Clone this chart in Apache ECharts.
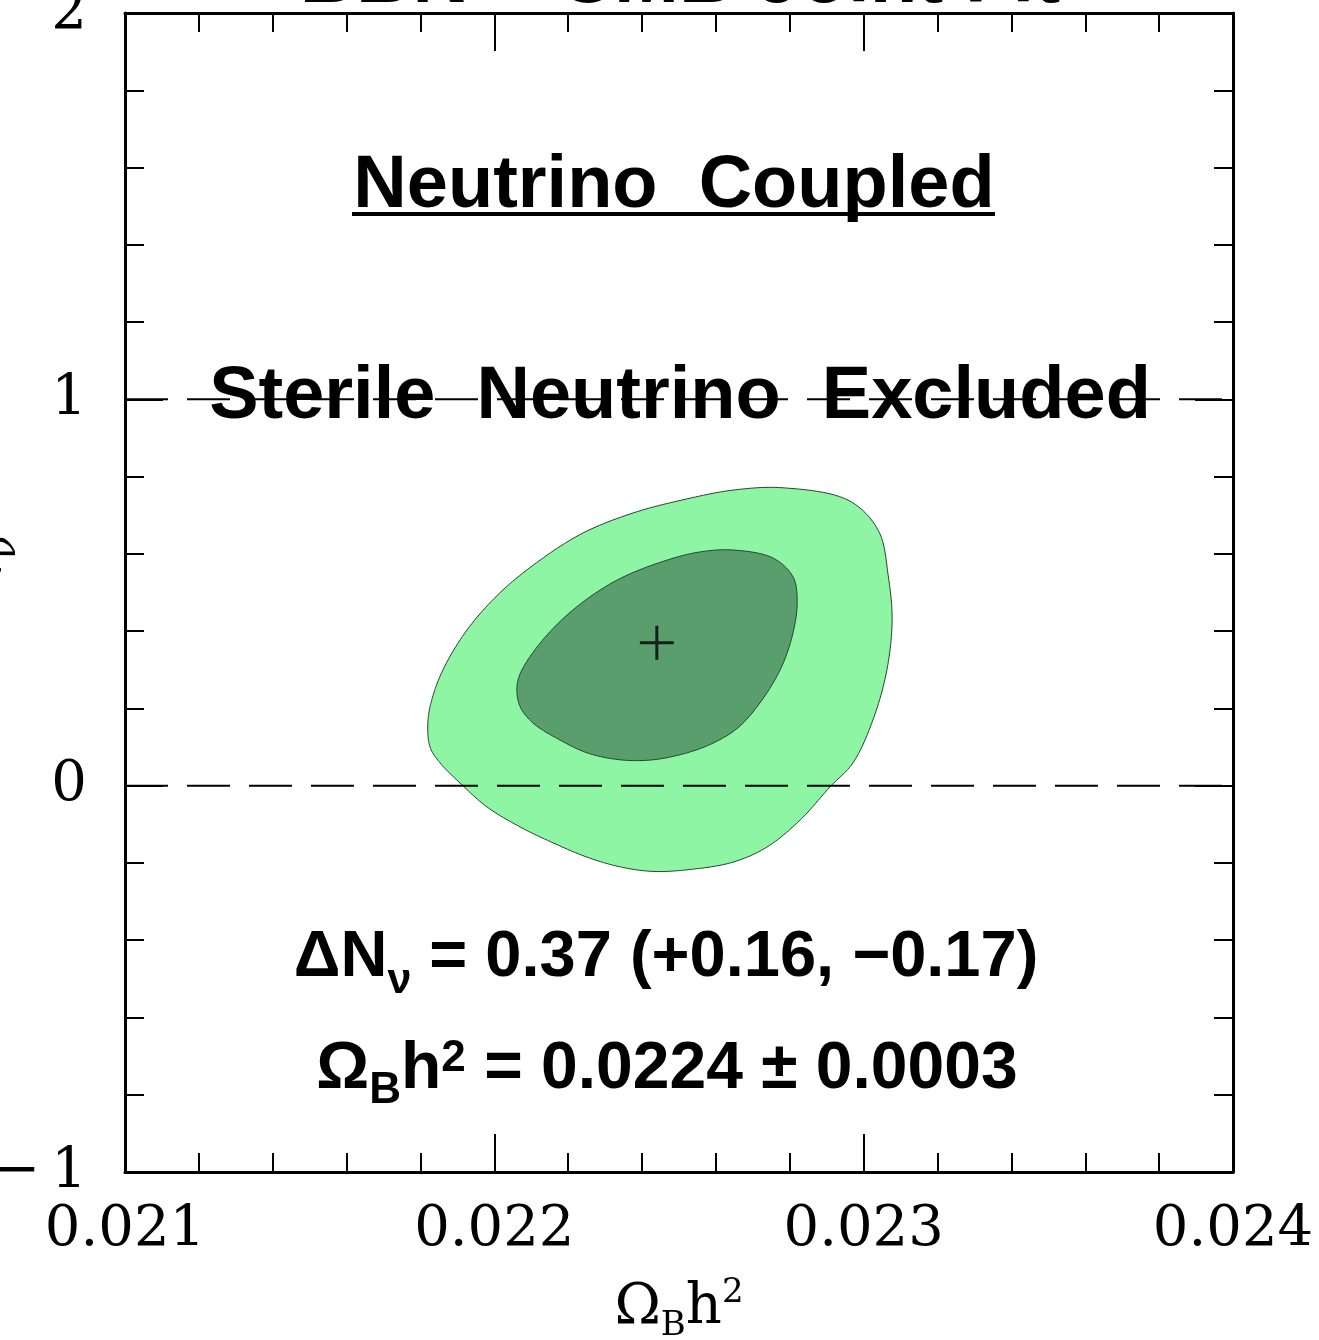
<!DOCTYPE html>
<html>
<head>
<meta charset="utf-8">
<script src="https://cdn.jsdelivr.net/npm/echarts/dist/echarts.min.js"></script>
<style>
html,body{margin:0;padding:0;background:#ffffff;}
#chart{width:1319px;height:1340px;}
</style>
</head>
<body>
<div id="chart"></div>
<script>
// ---- data ----
const xTicks = [0.021, 0.022, 0.023, 0.024];
const yTicks = [-1, 0, 1, 2];
// 95% (outer) contour: [Omega_B h^2, Delta N_nu]
const outerContour = [
  [0.022782, 0.771], [0.022960, 0.738], [0.023040, 0.660], [0.023067, 0.540],
  [0.023077, 0.429], [0.023063, 0.300], [0.023025, 0.170], [0.022971, 0.059],
  [0.022909, -0.003], [0.022828, -0.089], [0.022738, -0.159], [0.022646, -0.198],
  [0.022530, -0.217], [0.022430, -0.222], [0.022340, -0.210], [0.022251, -0.185],
  [0.022159, -0.148], [0.022070, -0.107], [0.021980, -0.055], [0.021907, 0.007],
  [0.021853, 0.059], [0.021826, 0.100], [0.021820, 0.162], [0.021830, 0.220],
  [0.021861, 0.300], [0.021926, 0.403], [0.022015, 0.499], [0.022124, 0.584],
  [0.022240, 0.654], [0.022376, 0.706], [0.022511, 0.740], [0.022646, 0.765]
];
// 68% (inner) contour
const innerContour = [
  [0.022646, 0.610], [0.022755, 0.589], [0.022809, 0.540], [0.022820, 0.473],
  [0.022806, 0.385], [0.022774, 0.300], [0.022719, 0.214], [0.022660, 0.150],
  [0.022592, 0.110], [0.022522, 0.085], [0.022430, 0.067], [0.022340, 0.067],
  [0.022251, 0.085], [0.022178, 0.118], [0.022105, 0.162], [0.022070, 0.204],
  [0.022061, 0.250], [0.022070, 0.290], [0.022124, 0.369], [0.022213, 0.455],
  [0.022332, 0.532], [0.022468, 0.584], [0.022557, 0.605]
];
const bestFit = [[0.02244, 0.37]];
const referenceLevels = [0, 1];

const titleText = 'BBN + CMB Joint Fit';
const headingText = 'Neutrino  Coupled';
const excludedText = 'Sterile  Neutrino  Excluded';
const resultLine1 = '{b|ΔN}{nu|ν}{b| = 0.37 (+0.16, −0.17)}';
const resultLine2 = '{b|Ω}{sb|B}{b|h}{sp|2}{b| = 0.0224 ± 0.0003}';

// ---- chart ----
const chart = echarts.init(document.getElementById('chart'), null, {renderer: 'canvas'});
const serif = 'DejaVu Serif';
const sans = 'Liberation Sans';
const black = '#000000';

// closed centripetal Catmull-Rom curve through pixel points
function closedSpline(pts, segs) {
  const n = pts.length, out = [];
  const d = function (a, b) { return Math.max(1e-6, Math.sqrt(Math.hypot(b[0] - a[0], b[1] - a[1]))); };
  const lerp = function (a, b, ta, tb, t) {
    const u = (t - ta) / (tb - ta);
    return [a[0] + (b[0] - a[0]) * u, a[1] + (b[1] - a[1]) * u];
  };
  for (let i = 0; i < n; i++) {
    const p0 = pts[(i - 1 + n) % n], p1 = pts[i], p2 = pts[(i + 1) % n], p3 = pts[(i + 2) % n];
    const t0 = 0, t1 = t0 + d(p0, p1), t2 = t1 + d(p1, p2), t3 = t2 + d(p2, p3);
    for (let k = 0; k < segs; k++) {
      const t = t1 + (t2 - t1) * k / segs;
      const A1 = lerp(p0, p1, t0, t1, t), A2 = lerp(p1, p2, t1, t2, t), A3 = lerp(p2, p3, t2, t3, t);
      const B1 = lerp(A1, A2, t0, t2, t), B2 = lerp(A2, A3, t1, t3, t);
      out.push(lerp(B1, B2, t1, t2, t));
    }
  }
  return out;
}

function contourSeries(name, pts, fill, z) {
  return {
    type: 'custom',
    name: name,
    coordinateSystem: 'cartesian2d',
    xAxisIndex: 0, yAxisIndex: 0,
    data: pts,
    encode: {x: 0, y: 1},
    clip: true,
    silent: true,
    z: z,
    renderItem: function (params, api) {
      if (params.dataIndex !== 0) return null;
      const points = closedSpline(pts.map(function (p) { return api.coord(p); }), 12);
      return {
        type: 'polygon',
        shape: {points: points},
        style: {fill: fill, stroke: '#25452c', lineWidth: 1}
      };
    }
  };
}

const tickCommon = {
  axisLine: {show: true, onZero: false, lineStyle: {color: black, width: 3}},
  axisTick: {show: true, inside: true, length: 38, lineStyle: {color: black, width: 2}},
  minorTick: {show: true, splitNumber: 5, length: 19, lineStyle: {color: black, width: 2}},
  splitLine: {show: false},
  minorSplitLine: {show: false}
};

const option = {
  animation: false,
  backgroundColor: '#ffffff',
  grid: {left: 125, right: 86, top: 13, bottom: 168, containLabel: false, outerBoundsMode: 'none'},
  xAxis: [
    Object.assign({
      type: 'value', position: 'bottom',
      min: xTicks[0], max: xTicks[xTicks.length - 1], interval: 0.001,
      axisLabel: {
        show: true, margin: 30, color: black, fontFamily: serif, fontSize: 56,
        formatter: function (v) { return v.toFixed(3); }
      },
      name: '{a|Ω}{s|B}{a|h}{p|2}',
      nameLocation: 'middle',
      nameGap: 106,
      nameMoveOverlap: false,
      nameTextStyle: {
        color: black, fontFamily: serif, fontSize: 56,
        rich: {
          a: {fontFamily: serif, fontSize: 56, lineHeight: 60, color: black},
          s: {fontFamily: serif, fontSize: 34, lineHeight: 34, padding: [36, 0, 0, 0], color: black},
          p: {fontFamily: serif, fontSize: 34, lineHeight: 34, padding: [0, 0, 30, 0], color: black}
        }
      }
    }, tickCommon),
    Object.assign({
      type: 'value', position: 'top',
      min: xTicks[0], max: xTicks[xTicks.length - 1], interval: 0.001,
      axisLabel: {show: false}
    }, tickCommon)
  ],
  yAxis: [
    Object.assign({
      type: 'value', position: 'left',
      min: yTicks[0], max: yTicks[yTicks.length - 1], interval: 1,
      axisLabel: {
        show: true, margin: 38, color: black, fontFamily: serif, fontSize: 56,
        formatter: function (v) { return v < 0 ? '−\u2009' + Math.abs(v) : String(v); }
      },
      name: '{a|ΔN}{s|ν}',
      nameLocation: 'middle',
      nameRotate: 90,
      nameGap: 110,
      nameMoveOverlap: false,
      nameTextStyle: {
        color: black, fontFamily: serif, fontSize: 56,
        rich: {
          a: {fontFamily: serif, fontSize: 56, lineHeight: 60, color: black},
          s: {fontFamily: serif, fontSize: 40, lineHeight: 40, padding: [40, 0, 0, 0], color: black}
        }
      }
    }, tickCommon),
    Object.assign({
      type: 'value', position: 'right',
      min: yTicks[0], max: yTicks[yTicks.length - 1], interval: 1,
      axisLabel: {show: false}
    }, tickCommon)
  ],
  series: [
    contourSeries('95% CL', outerContour, '#8ef5a5', 1),
    contourSeries('68% CL', innerContour, '#5b9e6e', 2)
  ].concat(referenceLevels.map(function (lvl) {
    return {
      type: 'line',
      name: 'level ' + lvl,
      xAxisIndex: 0, yAxisIndex: 0,
      data: [[xTicks[0], lvl], [xTicks[xTicks.length - 1], lvl]],
      symbol: 'none',
      silent: true,
      z: 3,
      lineStyle: {color: black, width: 2, type: [43, 19]}
    };
  })).concat([{
    type: 'scatter',
    name: 'best fit',
    xAxisIndex: 0, yAxisIndex: 0,
    data: bestFit,
    symbol: 'path://M-1.5,-17H1.5V-1.5H17V1.5H1.5V17H-1.5V1.5H-17V-1.5H-1.5Z',
    symbolSize: 34,
    itemStyle: {color: black},
    silent: true,
    z: 4
  }]),
  graphic: [
    {
      type: 'text', x: 680, y: -20, z: 10,
      style: {text: titleText, fill: black, fontFamily: sans, fontWeight: 'bold', fontSize: 78,
        align: 'center', verticalAlign: 'middle'}
    },
    {
      type: 'text', x: 674, y: 187, z: 10,
      style: {text: headingText, fill: black, fontFamily: sans, fontWeight: 'bold', fontSize: 74,
        align: 'center', verticalAlign: 'middle'}
    },
    {
      type: 'line', z: 10,
      shape: {x1: 352, y1: 214, x2: 995, y2: 214},
      style: {stroke: black, lineWidth: 4}
    },
    {
      type: 'text', x: 680, y: 398, z: 10,
      style: {text: excludedText, fill: black, fontFamily: sans, fontWeight: 'bold', fontSize: 74,
        align: 'center', verticalAlign: 'middle'}
    },
    {
      type: 'text', x: 666, y: 958, z: 10,
      style: {
        text: resultLine1, fill: black, align: 'center', verticalAlign: 'middle',
        rich: {
          b: {fontFamily: sans, fontWeight: 'bold', fontSize: 65, lineHeight: 76, fill: black},
          nu: {fontFamily: sans, fontWeight: 'bold', fontSize: 43, lineHeight: 43, padding: [46, 0, 0, 0], fill: black}
        }
      }
    },
    {
      type: 'text', x: 667, y: 1070, z: 10,
      style: {
        text: resultLine2, fill: black, align: 'center', verticalAlign: 'middle',
        rich: {
          b: {fontFamily: sans, fontWeight: 'bold', fontSize: 66, lineHeight: 76, fill: black},
          sb: {fontFamily: sans, fontWeight: 'bold', fontSize: 44, lineHeight: 44, padding: [42, 0, 0, 0], fill: black},
          sp: {fontFamily: sans, fontWeight: 'bold', fontSize: 44, lineHeight: 44, padding: [0, 0, 22, 0], fill: black}
        }
      }
    }
  ]
};
chart.setOption(option);
</script>
</body>
</html>
